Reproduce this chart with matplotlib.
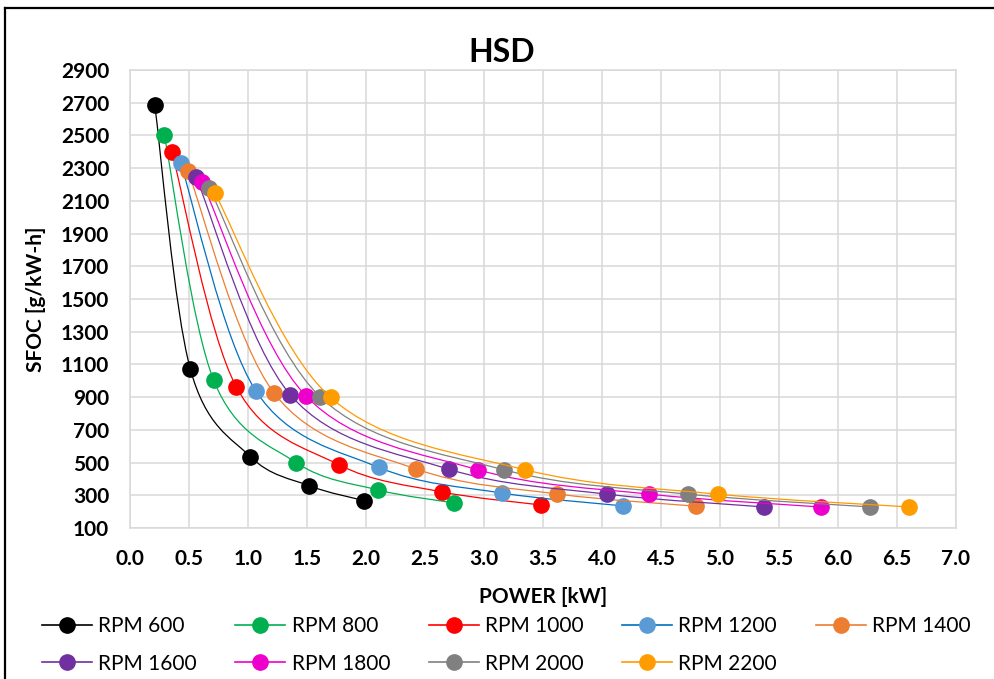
import numpy as np
import matplotlib
matplotlib.use("Agg")
import matplotlib.pyplot as plt
from matplotlib.path import Path
from matplotlib.patches import PathPatch
from matplotlib.lines import Line2D

plt.rcParams['font.family'] = ['Lato', 'DejaVu Sans']

# Data: POWER [kW] and SFOC [g/kW-h] per engine speed
labels = ["RPM 600", "RPM 800", "RPM 1000", "RPM 1200", "RPM 1400",
          "RPM 1600", "RPM 1800", "RPM 2000", "RPM 2200"]

power_600 = [0.21, 0.51, 1.02, 1.52, 1.98]
sfoc_600 = [2685, 1075, 536, 358, 268]
power_800 = [0.29, 0.71, 1.41, 2.10, 2.75]
sfoc_800 = [2505, 1002, 499, 333, 253]
power_1000 = [0.355, 0.90, 1.77, 2.64, 3.48]
sfoc_1000 = [2400, 964, 487, 321, 241]
power_1200 = [0.43, 1.065, 2.11, 3.15, 4.18]
sfoc_1200 = [2330, 940, 470, 314, 235]
power_1400 = [0.49, 1.22, 2.42, 3.62, 4.80]
sfoc_1400 = [2285, 926, 462, 308, 233]
power_1600 = [0.56, 1.36, 2.70, 4.04, 5.37]
sfoc_1600 = [2245, 913, 460, 307, 229]
power_1800 = [0.61, 1.49, 2.95, 4.40, 5.86]
sfoc_1800 = [2215, 908, 456, 307, 228]
power_2000 = [0.67, 1.61, 3.17, 4.73, 6.27]
sfoc_2000 = [2180, 903, 456, 307, 229]
power_2200 = [0.72, 1.70, 3.35, 4.98, 6.60]
sfoc_2200 = [2145, 898, 456, 307, 229]

powers = [power_600, power_800, power_1000, power_1200, power_1400,
          power_1600, power_1800, power_2000, power_2200]
sfocs = [sfoc_600, sfoc_800, sfoc_1000, sfoc_1200, sfoc_1400,
         sfoc_1600, sfoc_1800, sfoc_2000, sfoc_2200]

line_colors = ["#000000", "#00b050", "#ff0000", "#0070c0", "#ed7d31",
               "#7030a0", "#ee00cc", "#808080", "#ff9900"]
marker_colors = ["#000000", "#00b050", "#ff0000", "#5b9bd5", "#ed7d31",
                 "#7030a0", "#ee00cc", "#808080", "#ff9c00"]

W, H = 995, 679
fig = plt.figure(figsize=(W / 100, H / 100), dpi=100)


def fx(px):
    return px / W


def fy(py):
    return 1 - py / H


ax = fig.add_axes([fx(130), fy(528), fx(956) - fx(130), fy(70) - fy(528)])
ax.set_xlim(0, 7)
ax.set_ylim(100, 2900)
ax.set_xticks(np.arange(0, 7.01, 0.5))
ax.set_yticks(np.arange(100, 2901, 200))
ax.xaxis.set_major_formatter(matplotlib.ticker.FormatStrFormatter("%.1f"))
ax.grid(True, color="#d9d9d9", linewidth=1.1)
ax.set_axisbelow(True)
for s in ax.spines.values():
    s.set_color("#d9d9d9")
    s.set_linewidth(1.1)
ax.tick_params(length=0, labelsize=15, pad=15)
for lab in ax.get_xticklabels() + ax.get_yticklabels():
    lab.set_fontweight("bold")


def smooth_path(x, y):
    # Excel-like smoothed line: cubic Bezier through the points, built in screen space
    pts = ax.transData.transform(np.column_stack([x, y]))
    n = len(pts)
    verts = [pts[0]]
    codes = [Path.MOVETO]
    for i in range(n - 1):
        p0 = pts[i - 1] if i > 0 else pts[i]
        p1 = pts[i]
        p2 = pts[i + 1]
        p3 = pts[i + 2] if i + 2 < n else pts[i + 1]
        verts += [p1 + (p2 - p0) / 6, p2 - (p3 - p1) / 6, p2]
        codes += [Path.CURVE4] * 3
    verts = ax.transData.inverted().transform(np.array(verts))
    return Path(verts, codes)


handles = []
for i in range(len(labels)):
    patch = PathPatch(smooth_path(powers[i], sfocs[i]), fill=False,
                      edgecolor=line_colors[i], linewidth=0.9, zorder=2 + i)
    ax.add_patch(patch)
    ax.plot(powers[i], sfocs[i], linestyle="none", marker="o", markersize=11,
            markerfacecolor=marker_colors[i], markeredgecolor=marker_colors[i],
            zorder=2.5 + i)
    handles.append(Line2D([], [], color=line_colors[i], linewidth=1.2,
                          marker="o", markersize=11,
                          markerfacecolor=marker_colors[i],
                          markeredgecolor=marker_colors[i]))

fig.text(fx(502), fy(53), "HSD", fontsize=23, fontweight="bold",
         ha="center", va="center")
fig.text(fx(543), fy(597), "POWER [kW]", fontsize=15, fontweight="bold",
         ha="center", va="center")
fig.text(fx(36), fy(299), "SFOC [g/kW-h]", fontsize=15, fontweight="bold",
         ha="center", va="center", rotation=90)

order = [0, 5, 1, 6, 2, 7, 3, 8, 4]
fig.legend([handles[k] for k in order], [labels[k] for k in order],
           ncol=5, frameon=False, fontsize=15, loc="upper left",
           bbox_to_anchor=(fx(42), fy(616)), handlelength=2.4,
           handletextpad=0.3, columnspacing=1.85, labelspacing=0.85,
           borderpad=0, borderaxespad=0)

# outer chart border (only the top and left edges are in view)
fig.add_artist(Line2D([fx(5), fx(5)], [fy(8), 0], color="black", linewidth=1.6))
fig.add_artist(Line2D([fx(5), 1], [fy(8), fy(8)], color="black", linewidth=1.6))

fig.savefig("out.png", dpi=100)
